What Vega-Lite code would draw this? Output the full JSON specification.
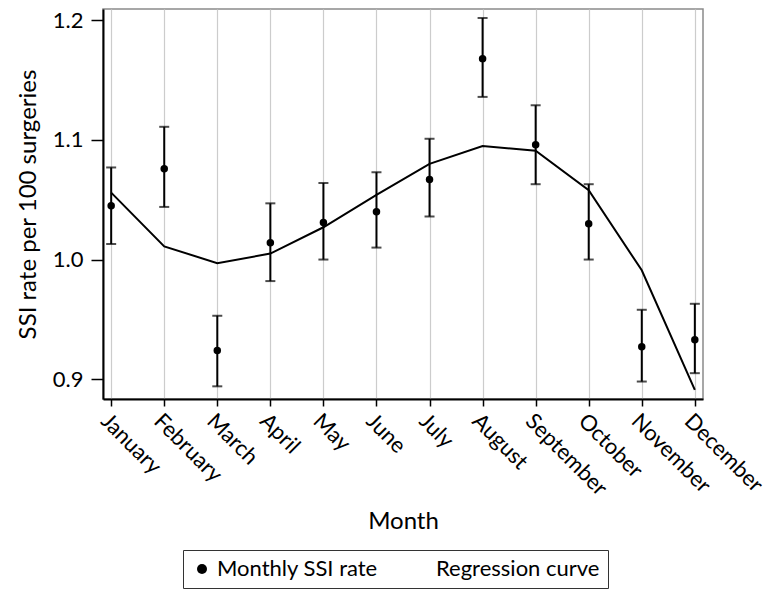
{
  "$schema": "https://vega.github.io/schema/vega-lite/v6.json",
  "width": 600,
  "height": 390,
  "autosize": {"type": "none"},
  "padding": {"left": 103, "top": 9, "right": 67, "bottom": 191},
  "background": "white",
  "config": {
    "font": "Lato",
    "view": {"stroke": "#8a8a8a", "strokeWidth": 1.5},
    "axis": {
      "labelFont": "Lato",
      "titleFont": "Lato",
      "labelColor": "black",
      "titleColor": "black",
      "domainColor": "black",
      "tickColor": "black",
      "domainWidth": 2,
      "tickWidth": 1.5,
      "titleFontWeight": "normal"
    },
    "legend": {
      "labelFont": "Lato",
      "labelFontSize": 22,
      "labelColor": "black",
      "labelLimit": 0
    }
  },
  "data": {
    "values": [
      {"month": "January", "rate": 1.045, "lower": 1.013, "upper": 1.077, "curve": 1.056, "series": "Monthly SSI rate"},
      {"month": "February", "rate": 1.076, "lower": 1.044, "upper": 1.111, "curve": 1.011, "series": "Monthly SSI rate"},
      {"month": "March", "rate": 0.924, "lower": 0.894, "upper": 0.953, "curve": 0.997, "series": "Monthly SSI rate"},
      {"month": "April", "rate": 1.014, "lower": 0.982, "upper": 1.047, "curve": 1.005, "series": "Monthly SSI rate"},
      {"month": "May", "rate": 1.031, "lower": 1.000, "upper": 1.064, "curve": 1.027, "series": "Monthly SSI rate"},
      {"month": "June", "rate": 1.040, "lower": 1.010, "upper": 1.073, "curve": 1.054, "series": "Monthly SSI rate"},
      {"month": "July", "rate": 1.067, "lower": 1.036, "upper": 1.101, "curve": 1.080, "series": "Monthly SSI rate"},
      {"month": "August", "rate": 1.168, "lower": 1.136, "upper": 1.202, "curve": 1.095, "series": "Monthly SSI rate"},
      {"month": "September", "rate": 1.096, "lower": 1.063, "upper": 1.129, "curve": 1.091, "series": "Monthly SSI rate"},
      {"month": "October", "rate": 1.030, "lower": 1.000, "upper": 1.063, "curve": 1.058, "series": "Monthly SSI rate"},
      {"month": "November", "rate": 0.927, "lower": 0.898, "upper": 0.958, "curve": 0.991, "series": "Monthly SSI rate"},
      {"month": "December", "rate": 0.933, "lower": 0.905, "upper": 0.963, "curve": 0.891, "series": "Monthly SSI rate"}
    ]
  },
  "encoding": {
    "x": {
      "field": "month",
      "type": "nominal",
      "sort": null,
      "scale": {"type": "point", "padding": 0.154},
      "axis": {
        "title": "Month",
        "titleFontSize": 24,
        "titlePadding": 10,
        "labelFontSize": 22,
        "labelAngle": 45,
        "labelAlign": "left",
        "labelBaseline": "top",
        "labelPadding": 4,
        "labelLimit": 0,
        "tickSize": 7,
        "grid": true,
        "gridColor": "#cccccc",
        "gridWidth": 1.2
      }
    }
  },
  "layer": [
    {
      "mark": {"type": "rule", "color": "black", "strokeWidth": 2},
      "encoding": {
        "y": {
          "field": "lower",
          "type": "quantitative",
          "scale": {"domain": [0.8834, 1.2095], "nice": false, "zero": false},
          "axis": {
            "title": "SSI rate per 100 surgeries",
            "titleFontSize": 24,
            "titlePadding": 12,
            "labelFontSize": 22,
            "values": [0.9, 1.0, 1.1, 1.2],
            "format": ".1f",
            "tickSize": 12,
            "labelPadding": 8,
            "grid": false
          }
        },
        "y2": {"field": "upper"}
      }
    },
    {
      "mark": {"type": "tick", "color": "black", "thickness": 2, "size": 10, "orient": "horizontal"},
      "encoding": {"y": {"field": "lower", "type": "quantitative"}}
    },
    {
      "mark": {"type": "tick", "color": "black", "thickness": 2, "size": 10, "orient": "horizontal"},
      "encoding": {"y": {"field": "upper", "type": "quantitative"}}
    },
    {
      "mark": {"type": "line", "color": "black", "strokeWidth": 2},
      "encoding": {"y": {"field": "curve", "type": "quantitative"}}
    },
    {
      "mark": {"type": "point", "filled": true, "color": "black", "opacity": 1, "size": 56},
      "encoding": {
        "y": {"field": "rate", "type": "quantitative"},
        "shape": {
          "field": "series",
          "type": "nominal",
          "scale": {"domain": ["Monthly SSI rate", "Regression curve"], "range": ["circle", "stroke"]},
          "legend": {
            "title": null,
            "orient": "none",
            "legendX": 80,
            "legendY": 541,
            "direction": "horizontal",
            "strokeColor": "#333333",
            "padding": 8,
            "columnPadding": 32,
            "symbolSize": 100,
            "symbolFillColor": "black",
            "symbolStrokeColor": "black",
            "symbolStrokeWidth": 1.5
          }
        }
      }
    }
  ]
}
